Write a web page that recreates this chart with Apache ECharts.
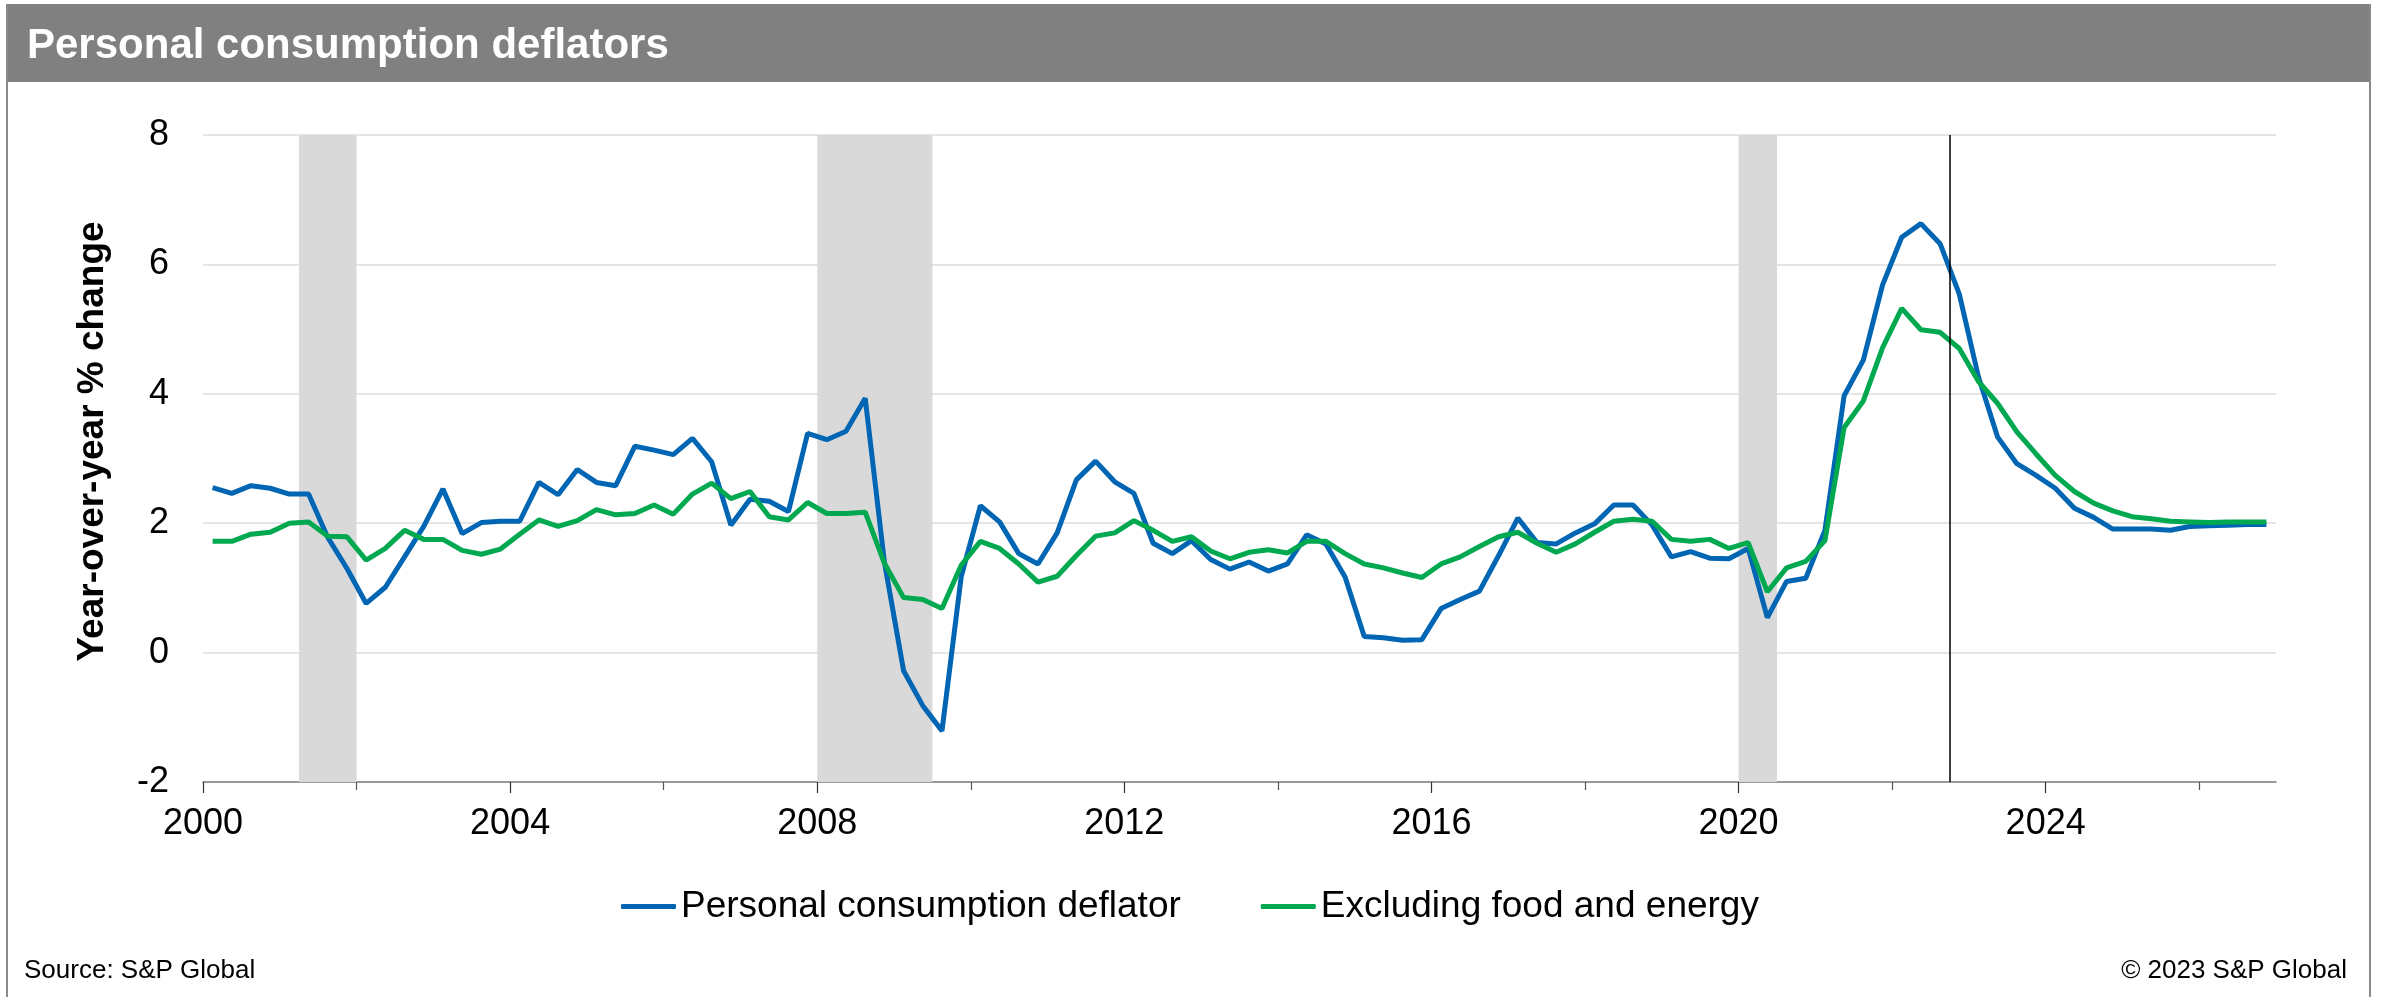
<!DOCTYPE html>
<html>
<head>
<meta charset="utf-8">
<title>Personal consumption deflators</title>
<script src="https://cdn.jsdelivr.net/npm/echarts@6/dist/echarts.min.js"></script>
<style>
	html, body { margin: 0; padding: 0; background: #fff; }
	#main { width: 2387px; height: 997px; }
</style>
</head>
<body>
<div id="main"></div>
<script>
	var FONT = "'Liberation Sans', Arial, sans-serif";
	var startYear = 2000; //第一季度所在年份

	//个人消费平减指数 同比 (季度, 2000Q1 - 2026Q4)
	var pceValues = [
		2.55, 2.46, 2.58, 2.54,   2.45, 2.45, 1.78, 1.30,   0.76, 1.01, 1.48, 1.95,
		2.53, 1.84, 2.01, 2.03,   2.03, 2.63, 2.44, 2.83,   2.63, 2.58, 3.19, 3.13,
		3.06, 3.31, 2.95, 1.97,   2.37, 2.34, 2.18, 3.39,   3.29, 3.42, 3.93, 1.40,
		-0.28, -0.82, -1.21, 1.17, 2.27, 2.02, 1.53, 1.37,  1.85, 2.67, 2.96, 2.64,
		2.46, 1.69, 1.53, 1.73,   1.44, 1.29, 1.40, 1.26,   1.37, 1.82, 1.68, 1.17,
		0.25, 0.23, 0.19, 0.20,   0.68, 0.82, 0.95, 1.50,   2.08, 1.70, 1.68, 1.85,
		1.99, 2.28, 2.28, 1.97,   1.48, 1.56, 1.46, 1.45,   1.61, 0.54, 1.10, 1.15,
		1.89, 3.97, 4.52, 5.68,   6.42, 6.63, 6.32, 5.54,   4.26, 3.33, 2.92, 2.74,
		2.54, 2.23, 2.09, 1.91,   1.91, 1.91, 1.89, 1.95,   1.96, 1.97, 1.98, 1.98
	];
	//剔除食品和能源
	var coreValues = [
		1.72, 1.72, 1.83, 1.86,   2.00, 2.02, 1.80, 1.79,   1.43, 1.61, 1.89, 1.75,
		1.75, 1.58, 1.52, 1.60,   1.83, 2.05, 1.95, 2.04,   2.21, 2.13, 2.15, 2.28,
		2.14, 2.45, 2.62, 2.38,   2.49, 2.10, 2.05, 2.32,   2.15, 2.15, 2.17, 1.38,
		0.85, 0.82, 0.68, 1.35,   1.72, 1.61, 1.37, 1.09,   1.18, 1.50, 1.80, 1.85,
		2.04, 1.89, 1.72, 1.79,   1.57, 1.45, 1.55, 1.59,   1.54, 1.72, 1.72, 1.53,
		1.37, 1.31, 1.23, 1.16,   1.37, 1.48, 1.64, 1.79,   1.86, 1.69, 1.55, 1.68,
		1.86, 2.03, 2.06, 2.03,   1.75, 1.72, 1.75, 1.61,   1.70, 0.94, 1.31, 1.41,
		1.73, 3.48, 3.89, 4.71,   5.32, 4.99, 4.95, 4.70,   4.19, 3.85, 3.41, 3.07,
		2.74, 2.49, 2.31, 2.19,   2.10, 2.07, 2.03, 2.02,   2.01, 2.02, 2.02, 2.02
	];
	var seriesNames = ["Personal consumption deflator", "Excluding food and energy"];
	var seriesColors = ["#0065b3", "#00a850"];
	var recessions = [[2001.25, 2002.0], [2008.0, 2009.5], [2020.0, 2020.5]]; //衰退期
	var forecastStart = 2022.75; //预测起点
	var labelYears = [2000, 2004, 2008, 2012, 2016, 2020, 2024];
	var minorYears = [2002, 2006, 2010, 2014, 2018, 2022, 2026];

	//季度中点
	function toPoints(values) {
		return values.map(function(v, i) {
			return [startYear + (i + 0.5) / 4, v];
		});
	}

	var chart = echarts.init(document.getElementById("main"));
	var gridBox = { left: 203, right: 111, top: 135, bottom: 215 };

	var option = {
		animation: false,
		textStyle: { fontFamily: FONT },
		title: {
			text: "Personal consumption deflators",
			left: 22,
			top: 20,
			textStyle: { color: "#fff", fontSize: 42, fontWeight: "bold", fontFamily: FONT }
		},
		graphic: [
			{ type: "rect", left: 6, top: 4, shape: { width: 2365, height: 78 }, style: { fill: "#808080" }, z: -1 },
			{ type: "line", shape: { x1: 7, y1: 4, x2: 7, y2: 997 }, style: { stroke: "#8a8a8a", lineWidth: 2 } },
			{ type: "line", shape: { x1: 2370, y1: 4, x2: 2370, y2: 997 }, style: { stroke: "#8a8a8a", lineWidth: 2 } },
			{ type: "text", left: 24, top: 958, style: { text: "Source: S&P Global", fontSize: 26, fill: "#000", fontFamily: FONT } },
			{ type: "text", right: 40, top: 958, style: { text: "\u00a9 2023 S&P Global", fontSize: 26, fill: "#000", fontFamily: FONT } }
		],
		legend: {
			left: 616,
			top: 883,
			icon: "roundRect",
			itemWidth: 55,
			itemHeight: 5,
			itemGap: 80,
			data: seriesNames,
			textStyle: { fontSize: 37, color: "#000", fontFamily: FONT }
		},
		grid: [
			{ left: gridBox.left, right: gridBox.right, top: gridBox.top, bottom: gridBox.bottom },
			{ left: gridBox.left, right: gridBox.right, top: gridBox.top, bottom: gridBox.bottom }
		],
		xAxis: [{
			type: "value",
			gridIndex: 0,
			min: 2000,
			max: 2027,
			axisLine: { onZero: false, lineStyle: { color: "#808080", width: 1.5 } },
			axisTick: { customValues: labelYears, length: 11, lineStyle: { color: "#333", width: 1.2 } },
			axisLabel: {
				customValues: labelYears,
				fontSize: 36,
				color: "#000",
				margin: 24,
				fontFamily: FONT,
				formatter: function(v) { return String(v); }
			},
			splitLine: { show: false }
		}, {
			//次刻度
			type: "value",
			gridIndex: 1,
			min: 2000,
			max: 2027,
			axisLine: { show: false, onZero: false },
			axisTick: { customValues: minorYears, length: 8, lineStyle: { color: "#555", width: 1.2 } },
			axisLabel: { show: false },
			splitLine: { show: false }
		}],
		yAxis: [{
			type: "value",
			gridIndex: 0,
			min: -2,
			max: 8,
			interval: 2,
			name: "Year-over-year % change",
			nameLocation: "middle",
			nameGap: 92,
			nameTextStyle: { fontSize: 37, fontWeight: "bold", color: "#000", fontFamily: FONT, padding: [0, 0, 0, 34] },
			axisLine: { show: false },
			axisTick: { show: false },
			axisLabel: { fontSize: 36, color: "#000", margin: 34, fontFamily: FONT },
			splitLine: { lineStyle: { color: "#dcdcdc", width: 1.5 } }
		}, {
			type: "value",
			gridIndex: 1,
			min: -2,
			max: 8,
			show: false
		}],
		series: [{
			//衰退期和预测线
			name: "bands",
			type: "line",
			data: [],
			silent: true,
			z: 1,
			markArea: {
				silent: true,
				itemStyle: { color: "#d9d9d9" },
				data: recessions.map(function(r) {
					return [{ xAxis: r[0] }, { xAxis: r[1] }];
				})
			},
			markLine: {
				silent: true,
				symbol: "none",
				label: { show: false },
				lineStyle: { color: "#000", width: 1.5, type: "solid" },
				data: [{ xAxis: forecastStart }]
			}
		}, {
			name: seriesNames[0],
			type: "line",
			data: toPoints(pceValues),
			showSymbol: false,
			color: seriesColors[0],
			lineStyle: { width: 5, color: seriesColors[0] },
			z: 3
		}, {
			name: seriesNames[1],
			type: "line",
			data: toPoints(coreValues),
			showSymbol: false,
			color: seriesColors[1],
			lineStyle: { width: 5, color: seriesColors[1] },
			z: 4
		}]
	};
	chart.setOption(option);
</script>
</body>
</html>
